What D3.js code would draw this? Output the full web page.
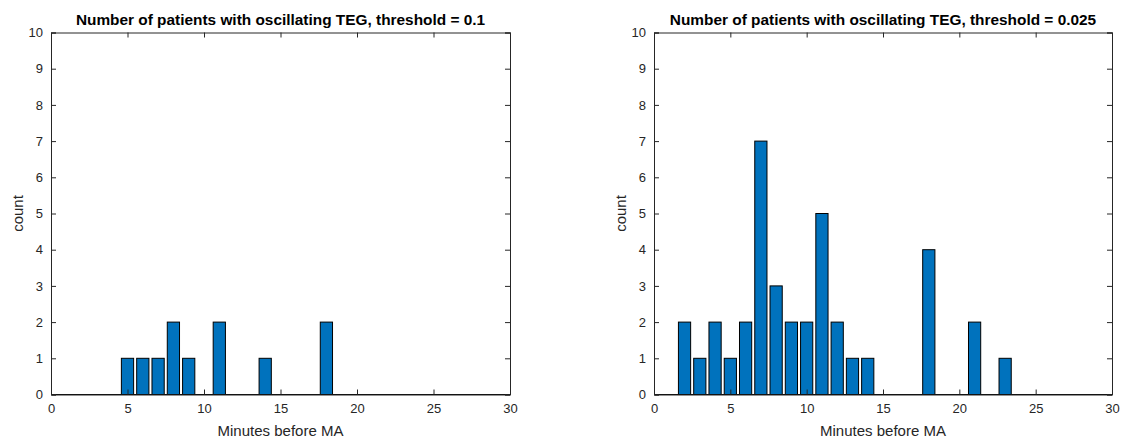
<!DOCTYPE html>
<html>
<head>
<meta charset="utf-8">
<script src="https://cdn.jsdelivr.net/npm/d3@7"></script>
<style>
  body { margin: 0; background: #fff; }
  svg { font-family: "Liberation Sans", Arial, sans-serif; }
</style>
</head>
<body>
<div id="chart"></div>
<script>
// data
const minutesLeft = [5, 6, 7, 8, 9, 11, 14, 18];
const countsLeft = [1, 1, 1, 2, 1, 2, 1, 2];
const minutesRight = [2, 3, 4, 5, 6, 7, 8, 9, 10, 11, 12, 13, 14, 18, 21, 23];
const countsRight = [2, 1, 2, 1, 2, 7, 3, 2, 2, 5, 2, 1, 1, 4, 2, 1];
const xTicks = [0, 5, 10, 15, 20, 25, 30];
const yTicks = [0, 1, 2, 3, 4, 5, 6, 7, 8, 9, 10];
const titles = [
  "Number of patients with oscillating TEG, threshold = 0.1",
  "Number of patients with oscillating TEG, threshold = 0.025"
];

const WIDTH = 1125, HEIGHT = 439;
const TOP = 32.5, BOTTOM = 394.5;
const BAR_WIDTH = 0.8;
const AXIS_COLOR = "#262626";

const svg = d3.select("#chart").append("svg")
  .attr("width", WIDTH)
  .attr("height", HEIGHT);

function drawPanel(left, right, title, minutes, counts) {
  const x = d3.scaleLinear().domain([0, 30]).range([left, right]);
  const y = d3.scaleLinear().domain([0, 10]).range([BOTTOM, TOP]);
  const g = svg.append("g");
  const data = minutes.map((m, i) => ({ m: m, c: counts[i] }));

  // baseline (zero bars in matlab show as a line)
  g.append("line")
    .attr("x1", x(0)).attr("x2", x(30))
    .attr("y1", y(0)).attr("y2", y(0))
    .attr("stroke", "#000").attr("stroke-width", 1);

  g.selectAll(".bar")
    .data(data)
    .enter()
    .append("rect")
    .attr("class", "bar")
    .attr("x", d => x(d.m - BAR_WIDTH / 2))
    .attr("width", x(BAR_WIDTH) - x(0))
    .attr("y", d => y(d.c))
    .attr("height", d => y(0) - y(d.c))
    .attr("fill", "#0072BD")
    .attr("stroke", "#000")
    .attr("stroke-width", 1);

  // axes, ticks inward
  const xBottom = d3.axisBottom(x).tickValues(xTicks).tickSize(-5).tickPadding(9);
  const xTop = d3.axisTop(x).tickValues(xTicks).tickSize(-5).tickFormat("");
  const yLeft = d3.axisLeft(y).tickValues(yTicks).tickSize(-5).tickPadding(8);
  const yRight = d3.axisRight(y).tickValues(yTicks).tickSize(-5).tickFormat("");

  const axes = [
    g.append("g").attr("transform", `translate(0,${BOTTOM})`).call(xBottom),
    g.append("g").attr("transform", `translate(0,${TOP})`).call(xTop),
    g.append("g").attr("transform", `translate(${left},0)`).call(yLeft),
    g.append("g").attr("transform", `translate(${right},0)`).call(yRight)
  ];
  axes.forEach(a => {
    a.selectAll("path").attr("stroke", AXIS_COLOR).attr("stroke-width", 1);
    a.selectAll("line").attr("stroke", AXIS_COLOR);
    a.selectAll("text")
      .attr("fill", AXIS_COLOR)
      .style("font-size", "13px")
      .style("font-family", "'Liberation Sans', Arial, sans-serif");
  });

  g.append("text")
    .attr("x", (left + right) / 2)
    .attr("y", 25)
    .attr("text-anchor", "middle")
    .style("font-size", "15.4px")
    .style("font-weight", "bold")
    .attr("fill", "#000")
    .text(title);

  g.append("text")
    .attr("x", (left + right) / 2)
    .attr("y", 436)
    .attr("text-anchor", "middle")
    .style("font-size", "15px")
    .attr("fill", AXIS_COLOR)
    .text("Minutes before MA");

  g.append("text")
    .attr("transform", `translate(${left - 28},${(TOP + BOTTOM) / 2}) rotate(-90)`)
    .attr("text-anchor", "middle")
    .style("font-size", "15px")
    .attr("fill", AXIS_COLOR)
    .text("count");
}

drawPanel(51, 510, titles[0], minutesLeft, countsLeft);
drawPanel(654, 1112, titles[1], minutesRight, countsRight);
</script>
</body>
</html>
